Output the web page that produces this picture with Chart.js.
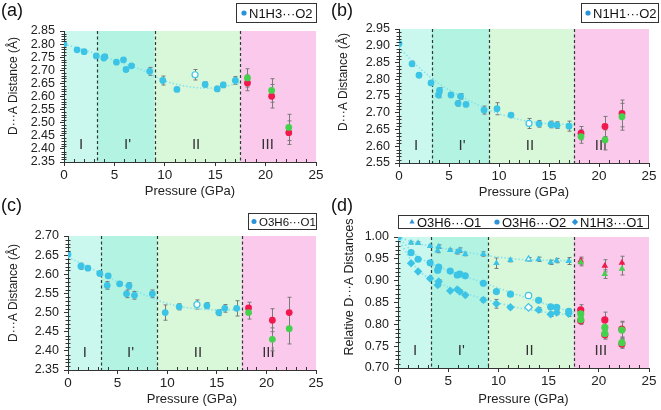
<!DOCTYPE html>
<html>
<head>
<meta charset="utf-8">
<script src="https://cdn.jsdelivr.net/npm/chart.js@4.4.1/dist/chart.umd.min.js"></script>
<style>
  body { margin: 0; background: #fff; }
  #wrap { position: relative; width: 661px; height: 410px; overflow: hidden; }
  canvas { position: absolute; }
</style>
</head>
<body>
<div id="wrap">
  <canvas id="ca" width="330" height="205" style="left:0;top:0"></canvas>
  <canvas id="cb" width="331" height="205" style="left:330px;top:0"></canvas>
  <canvas id="cc" width="330" height="215" style="left:0;top:195px"></canvas>
  <canvas id="cd" width="331" height="215" style="left:330px;top:195px"></canvas>
</div>
<script>
// phases
const phaseEdges = [0, 3.3, 9, 17.5, 25];
const phaseNames = ['I', "I'", 'II', 'III'];
const phaseLabelX = [1.7, 6.3, 13.1, 20.2];
const phaseColors = ['#cbf8ee', '#b2f3e2', '#d9f8d9', '#fbc9eb'];

// pressures (GPa) shared by all panels
const pressures = [0, 1.3, 2.0, 3.2, 4.05, 3.95, 5.2, 5.9, 6.15, 6.7, 8.5, 9.8, 11.2, 14.0, 15.2, 15.8, 17.0];
const openPressure = [13.0];
const pressuresIII = [18.2, 20.6, 22.3];
const fitX = [0, 2, 4, 6, 8, 10, 12, 14, 16, 17.5];

// (a) N1H3...O2
const aY = [2.800, 2.778, 2.771, 2.755, 2.752, 2.747, 2.731, 2.740, 2.703, 2.717, 2.696, 2.661, 2.627, 2.646, 2.629, 2.644, 2.661];
const aErr = [0, 0.005, 0.004, 0.004, 0.006, 0.006, 0.004, 0.004, 0.006, 0.005, 0.015, 0.017, 0.007, 0.01, 0.01, 0.01, 0.015];
const aOpenY = [2.683], aOpenErr = [0.02];
const aGreenY = [2.671, 2.623, 2.482], aGreenErr = [0.035, 0.045, 0.05];
const aRedY = [2.652, 2.601, 2.462], aRedErr = [0.03, 0.045, 0.045];
const aFit = [2.800, 2.778, 2.752, 2.725, 2.697, 2.660, 2.640, 2.632, 2.638, 2.655];

// (b) N1H1...O2
const bY = [2.906, 2.846, 2.812, 2.789, 2.767, 2.753, 2.753, 2.728, 2.749, 2.725, 2.708, 2.712, 2.693, 2.667, 2.665, 2.663, 2.660];
const bErr = [0, 0.008, 0.004, 0.004, 0.008, 0.008, 0.004, 0.008, 0.008, 0.005, 0.012, 0.018, 0.005, 0.01, 0.01, 0.01, 0.015];
const bOpenY = [2.668], bOpenErr = [0.015];
const bGreenY = [2.629, 2.619, 2.688], bGreenErr = [0.02, 0.03, 0.04];
const bRedY = [2.639, 2.659, 2.698], bRedErr = [0.02, 0.03, 0.04];
const bFit = [2.895, 2.835, 2.787, 2.752, 2.722, 2.697, 2.680, 2.670, 2.666, 2.665];

// (c) O3H6...O1
const cY = [2.652, 2.621, 2.616, 2.602, 2.596, 2.571, 2.575, 2.549, 2.570, 2.545, 2.549, 2.500, 2.515, 2.518, 2.500, 2.511, 2.511];
const cErr = [0, 0.008, 0.005, 0.004, 0.006, 0.01, 0.004, 0.01, 0.008, 0.01, 0.01, 0.02, 0.008, 0.008, 0.008, 0.01, 0.02];
const cOpenY = [2.521], cOpenErr = [0.012];
const cGreenY = [2.500, 2.430, 2.458], cGreenErr = [0.017, 0.03, 0.04];
const cRedY = [2.512, 2.480, 2.500], cRedErr = [0.015, 0.03, 0.04];
const cFit = [2.645, 2.620, 2.593, 2.567, 2.543, 2.524, 2.513, 2.508, 2.507, 2.508];

// (d) relative distances
const dTriY = [1.000, 0.987, 0.986, 0.979, 0.978, 0.969, 0.970, 0.966, 0.970, 0.961, 0.961, 0.940, 0.947, 0.949, 0.942, 0.946, 0.945];
const dTriErr = [0, 0.003, 0.003, 0.003, 0.004, 0.005, 0.003, 0.005, 0.005, 0.004, 0.005, 0.012, 0.004, 0.005, 0.005, 0.005, 0.008];
const dCircY = [1.000, 0.964, 0.949, 0.941, 0.931, 0.924, 0.922, 0.913, 0.915, 0.911, 0.894, 0.875, 0.869, 0.855, 0.840, 0.839, 0.830];
const dCircErr = [0, 0.003, 0.003, 0.003, 0.004, 0.004, 0.003, 0.004, 0.004, 0.004, 0.004, 0.005, 0.004, 0.004, 0.004, 0.004, 0.005];
const dDiamY = [1.000, 0.940, 0.921, 0.905, 0.898, 0.890, 0.877, 0.880, 0.875, 0.867, 0.856, 0.847, 0.839, 0.833, 0.823, 0.827, 0.824];
const dDiamErr = [0, 0.003, 0.003, 0.003, 0.004, 0.004, 0.003, 0.004, 0.004, 0.004, 0.005, 0.01, 0.004, 0.005, 0.005, 0.005, 0.006];
const dOpenTri = [0.949], dOpenCirc = [0.866], dOpenDiam = [0.839];
const dTriGreenY = [0.942, 0.915, 0.927], dTriGreenErr = [0.008, 0.01, 0.014];
const dTriRedY = [0.946, 0.934, 0.941], dTriRedErr = [0.008, 0.014, 0.015];
const dCircGreenY = [0.824, 0.793, 0.787], dCircGreenErr = [0.012, 0.018, 0.018];
const dCircRedY = [0.833, 0.810, 0.789], dCircRedErr = [0.012, 0.018, 0.018];
const dDiamGreenY = [0.811, 0.779, 0.758], dDiamGreenErr = [0.008, 0.01, 0.01];
const dDiamRedY = [0.808, 0.776, 0.755], dDiamRedErr = [0.008, 0.01, 0.01];
const dTriFit = [1.000, 0.985, 0.976, 0.968, 0.961, 0.954, 0.949, 0.947, 0.946, 0.946];
const dCircFit = [1.000, 0.955, 0.932, 0.915, 0.899, 0.883, 0.867, 0.852, 0.837, 0.827];
const dDiamFit = [0.995, 0.925, 0.896, 0.877, 0.862, 0.849, 0.838, 0.830, 0.824, 0.820];

const FONT = "'Liberation Sans', Arial, Helvetica, sans-serif";
const blue = '#3cc4e6';
const legendBlue = '#2a92d8';
const green = '#44d24c';
const red = '#f0184c';
const fitColor = '#86e2f0';
const errColor = '#7a7a7a';

Chart.defaults.font.family = FONT;
Chart.defaults.color = '#222';

function pts(xs, ys) {
  return xs.map((v, i) => ({ x: v, y: ys[i] }));
}

function fitLine(ys) {
  return { data: pts(fitX, ys), showLine: true, pointRadius: 0, borderColor: fitColor,
           borderWidth: 1.6, borderDash: [1.5, 2], cubicInterpolationMode: 'monotone', order: 5 };
}

function marks(xs, ys, errs, color, style, r, open) {
  return { data: pts(xs, ys), errors: errs, pointStyle: style, pointRadius: r,
           backgroundColor: open ? '#fff' : color, borderColor: color,
           borderWidth: open ? 1.2 : 0, showLine: false, order: 1 };
}

function series(fit, y, err, openY, openErr, greenY, greenErr, redY, redErr) {
  return [
    fitLine(fit),
    marks(pressures, y, err, blue, 'circle', 3.4),
    marks(openPressure, openY, openErr, blue, 'circle', 3, true),
    marks(pressuresIII, greenY, greenErr, green, 'circle', 3.4),
    marks(pressuresIII, redY, redErr, red, 'circle', 3.4)
  ];
}

// backgrounds, phase lines, error bars, minor ticks, labels, legend
const decor = {
  id: 'decor',
  beforeDraw(chart) {
    const { ctx, chartArea: a, scales: { x } } = chart;
    ctx.save();
    phaseColors.forEach((c, i) => {
      const x0 = x.getPixelForValue(phaseEdges[i]);
      const x1 = x.getPixelForValue(phaseEdges[i + 1]);
      ctx.fillStyle = c;
      ctx.fillRect(x0, a.top, x1 - x0, a.bottom - a.top);
    });
    ctx.restore();
  },
  beforeDatasetsDraw(chart) {
    const { ctx, chartArea: a, scales: { x, y } } = chart;
    ctx.save();
    ctx.strokeStyle = '#2c3a38';
    ctx.lineWidth = 1.2;
    ctx.setLineDash([3, 2.5]);
    phaseEdges.slice(1, 4).forEach(p => {
      const px = Math.round(x.getPixelForValue(p)) + 0.5;
      ctx.beginPath();
      ctx.moveTo(px, a.top);
      ctx.lineTo(px, a.bottom);
      ctx.stroke();
    });
    ctx.setLineDash([]);
    ctx.fillStyle = '#333';
    ctx.font = '15px ' + FONT;
    ctx.textAlign = 'center';
    ctx.textBaseline = 'middle';
    phaseNames.forEach((n, i) => ctx.fillText(n, x.getPixelForValue(phaseLabelX[i]), a.bottom - 17));
    ctx.strokeStyle = errColor;
    ctx.lineWidth = 1;
    chart.data.datasets.forEach((ds, i) => {
      if (!ds.errors) return;
      const meta = chart.getDatasetMeta(i);
      ds.data.forEach((p, j) => {
        const e = ds.errors[j];
        if (!e) return;
        const px = Math.round(meta.data[j].x) + 0.5;
        const t = y.getPixelForValue(p.y + e);
        const b = y.getPixelForValue(p.y - e);
        ctx.beginPath();
        ctx.moveTo(px, t); ctx.lineTo(px, b);
        ctx.moveTo(px - 2, t); ctx.lineTo(px + 2, t);
        ctx.moveTo(px - 2, b); ctx.lineTo(px + 2, b);
        ctx.stroke();
      });
    });
    ctx.restore();
  },
  afterDraw(chart, args, o) {
    const { ctx, chartArea: a, scales: { x, y } } = chart;
    ctx.save();
    ctx.strokeStyle = '#333';
    ctx.lineWidth = 1;
    for (let v = 1; v < 25; v++) {
      if (v % 5 === 0) continue;
      const px = Math.round(x.getPixelForValue(v)) + 0.5;
      ctx.beginPath();
      ctx.moveTo(px, a.bottom);
      ctx.lineTo(px, a.bottom - 3);
      ctx.stroke();
    }
    const n = Math.round((y.max - y.min) / 0.01);
    for (let k = 1; k < n; k++) {
      if (k % 5 === 0) continue;
      const py = Math.round(y.getPixelForValue(y.min + k * 0.01)) + 0.5;
      ctx.beginPath();
      ctx.moveTo(a.left - 2.5, py);
      ctx.lineTo(a.left + 2.5, py);
      ctx.stroke();
    }
    // y title
    ctx.fillStyle = '#222';
    ctx.font = o.yTitle.size + 'px ' + FONT;
    ctx.textAlign = 'center';
    ctx.textBaseline = 'middle';
    ctx.translate(o.yTitle.x, o.yTitle.y);
    ctx.rotate(-Math.PI / 2);
    ctx.fillText(o.yTitle.text, 0, 0);
    ctx.setTransform(1, 0, 0, 1, 0, 0);
    // panel letter
    ctx.fillStyle = '#111';
    ctx.font = '18px ' + FONT;
    ctx.textAlign = 'left';
    ctx.textBaseline = 'alphabetic';
    ctx.fillText(o.letter[0], o.letter[1], o.letter[2]);
    // legend
    const L = o.legend;
    const [bx, by, bw, bh] = L.box;
    ctx.fillStyle = '#fff';
    ctx.fillRect(bx, by, bw, bh);
    ctx.strokeStyle = '#333';
    ctx.strokeRect(bx + 0.5, by + 0.5, bw, bh);
    const cy = by + bh / 2 + 0.5;
    ctx.font = L.font + 'px ' + FONT;
    ctx.textBaseline = 'middle';
    L.items.forEach(it => {
      ctx.fillStyle = legendBlue;
      Chart.helpers.drawPoint(ctx, { pointStyle: it.style, radius: it.r, borderWidth: 0, rotation: 0 }, it.x, cy);
      ctx.fillStyle = '#111';
      ctx.fillText(it.label, it.x + 5, cy + 1);
    });
    ctx.restore();
  }
};

function panel(id, cfg) {
  const cv = document.getElementById(id);
  const [L, T, R, B] = cfg.area;
  new Chart(cv, {
    type: 'scatter',
    data: { datasets: cfg.datasets },
    plugins: [decor],
    options: {
      responsive: false,
      animation: false,
      events: [],
      layout: { padding: { left: 0, top: T, right: cv.width - R, bottom: cfg.pb } },
      plugins: {
        legend: { display: false },
        tooltip: { enabled: false },
        decor: { letter: cfg.letter, legend: cfg.legend, yTitle: cfg.yTitle }
      },
      scales: {
        x: {
          type: 'linear', min: 0, max: 25,
          ticks: { stepSize: 5, font: { size: 13.5 }, color: '#222', padding: 1, maxRotation: 0, autoSkip: false },
          grid: { drawOnChartArea: false, tickLength: 4, color: '#333' },
          border: { color: '#333', width: 1 },
          title: { display: true, text: 'Pressure (GPa)', font: { size: 13 }, color: '#222', padding: 0 },
          afterFit: s => { s.height = cv.height - cfg.pb - B; }
        },
        y: {
          min: cfg.y[0], max: cfg.y[1],
          ticks: { stepSize: 0.05, font: { size: 12.5 }, color: '#222', padding: 5, autoSkip: false,
                   callback: v => v.toFixed(2) },
          grid: { drawOnChartArea: false, tickLength: 4, color: '#333' },
          border: { color: '#333', width: 1 },
          afterFit: s => { s.width = L; }
        }
      }
    }
  });
}

panel('ca', {
  area: [64, 31, 316, 162], pb: 6, y: [2.35, 2.85],
  letter: ['(a)', 1, 16],
  yTitle: { text: 'D···A Distance (Å)', x: 13.5, y: 86, size: 12 },
  legend: { box: [236, 3, 80, 19], font: 13, items: [{ style: 'circle', r: 2.6, x: 244, label: 'N1H3···O2' }] },
  datasets: series(aFit, aY, aErr, aOpenY, aOpenErr, aGreenY, aGreenErr, aRedY, aRedErr)
});

panel('cb', {
  area: [69, 29, 319, 163], pb: 5, y: [2.55, 2.95],
  letter: ['(b)', 1, 16],
  yTitle: { text: 'D···A Distance (Å)', x: 13.5, y: 82, size: 12 },
  legend: { box: [251, 3, 77, 19], font: 13, items: [{ style: 'circle', r: 2.6, x: 258, label: 'N1H1···O2' }] },
  datasets: series(bFit, bY, bErr, bOpenY, bOpenErr, bGreenY, bGreenErr, bRedY, bRedErr)
});

panel('cc', {
  area: [68, 41, 316, 175], pb: 3, y: [2.35, 2.70],
  letter: ['(c)', 1, 16],
  yTitle: { text: 'D···A Distance (Å)', x: 13.5, y: 98, size: 12 },
  legend: { box: [248, 18, 68, 16], font: 11.5, items: [{ style: 'circle', r: 2.5, x: 254, label: 'O3H6···O1' }] },
  datasets: series(cFit, cY, cErr, cOpenY, cOpenErr, cGreenY, cGreenErr, cRedY, cRedErr)
});

panel('cd', {
  area: [68, 42, 319, 173], pb: 3, y: [0.70, 1.00],
  letter: ['(d)', 1, 16],
  yTitle: { text: 'Relative D···A Distances', x: 20, y: 92, size: 12.5 },
  legend: { box: [68, 20, 250, 13], font: 13, items: [
    { style: 'triangle', r: 3, x: 82, label: 'O3H6···O1' },
    { style: 'circle', r: 2.6, x: 167, label: 'O3H6···O2' },
    { style: 'rectRot', r: 3.2, x: 245, label: 'N1H3···O1' }
  ] },
  datasets: [
    fitLine(dTriFit), fitLine(dCircFit), fitLine(dDiamFit),
    marks(pressures, dTriY, dTriErr, blue, 'triangle', 3.8),
    marks(pressures, dCircY, dCircErr, blue, 'circle', 3.6),
    marks(pressures, dDiamY, dDiamErr, blue, 'rectRot', 4.2),
    marks(openPressure, dOpenTri, [0.004], blue, 'triangle', 3.4, true),
    marks(openPressure, dOpenCirc, [0.004], blue, 'circle', 3.2, true),
    marks(openPressure, dOpenDiam, [0.004], blue, 'rectRot', 3.8, true),
    marks(pressuresIII, dTriGreenY, dTriGreenErr, green, 'triangle', 3.8),
    marks(pressuresIII, dTriRedY, dTriRedErr, red, 'triangle', 3.8),
    marks(pressuresIII, dCircGreenY, dCircGreenErr, green, 'circle', 3.6),
    marks(pressuresIII, dCircRedY, dCircRedErr, red, 'circle', 3.6),
    marks(pressuresIII, dDiamGreenY, dDiamGreenErr, green, 'circle', 3.6),
    marks(pressuresIII, dDiamRedY, dDiamRedErr, red, 'circle', 3.6)
  ]
});
</script>
</body>
</html>
